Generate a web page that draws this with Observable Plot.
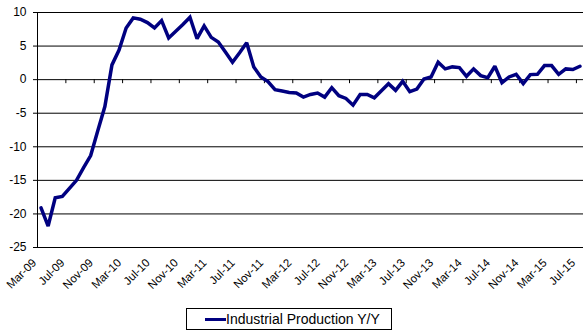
<!DOCTYPE html>
<html>
<head>
<meta charset="utf-8">
<script src="https://cdn.jsdelivr.net/npm/d3@7"></script>
<script src="https://cdn.jsdelivr.net/npm/@observablehq/plot@0.6"></script>
<style>
  html, body { margin: 0; padding: 0; background: #fff; }
  body { width: 583px; height: 333px; position: relative; overflow: hidden; font-family: "Liberation Sans", Arial, sans-serif; }
  #chart svg { display: block; }
  #legend { position: absolute; left: 186px; top: 308px; width: 204px; height: 20px; border: 1px solid #000; background: #fff; }
  #legend .sw { position: absolute; left: 18px; top: 8.5px; width: 21px; height: 3.5px; background: #000080; }
  #legend .lab { position: absolute; left: 39px; top: 1px; font-size: 14px; line-height: 18px; color: #000; white-space: nowrap; }
</style>
</head>
<body>
<div id="chart"></div>
<div id="legend"><span class="sw"></span><span class="lab">Industrial Production Y/Y</span></div>
<script>
// Monthly categories from Mar-09 to Jul-15; a label every 4 months
const tickLabels = ["Mar-09","Jul-09","Nov-09","Mar-10","Jul-10","Nov-10","Mar-11","Jul-11","Nov-11","Mar-12",
  "Jul-12","Nov-12","Mar-13","Jul-13","Nov-13","Mar-14","Jul-14","Nov-14","Mar-15","Jul-15"];
const monthsPerLabel = 4;

// Industrial Production Y/Y (%), one value per month, Mar-09 .. Jul-15
const ipYoY = [
  -19.1, -21.8, -17.6, -17.4, -16.2, -15.0, -13.1, -11.3, -7.6, -4.0,
  2.2, 4.4, 7.7, 9.2, 9.0, 8.5, 7.7, 8.8, 6.2, 7.2,
  8.2, 9.3, 6.1, 8.0, 6.3, 5.6, 4.1, 2.6, 4.0, 5.5,
  1.9, 0.4, -0.3, -1.5, -1.7, -1.9, -2.0, -2.6, -2.2, -2.0,
  -2.6, -1.2, -2.4, -2.8, -3.8, -2.2, -2.2, -2.7, -1.65, -0.6,
  -1.6, -0.25, -1.8, -1.4, 0.1, 0.4, 2.6, 1.6, 1.9, 1.8,
  0.5, 1.6, 0.6, 0.3, 2.0, -0.45, 0.4, 0.8, -0.6, 0.75,
  0.8, 2.1, 2.1, 0.8, 1.6, 1.5, 2.0
];

const yTicks = [-25, -20, -15, -10, -5, 0, 5, 10];

const data = ipYoY.map((v, i) => ({ m: i + 0.5, v }));
const tickPos = tickLabels.map((_, i) => i * monthsPerLabel);

const chart = Plot.plot({
  width: 583,
  height: 295,
  marginLeft: 37,
  marginRight: 0,
  marginTop: 12,
  marginBottom: 48,
  x: { domain: [0, ipYoY.length], axis: null },
  y: { domain: [d3.min(yTicks), d3.max(yTicks)], axis: null },
  style: { fontFamily: "'Liberation Sans', Arial, sans-serif", fontSize: "12px", color: "#000", background: "#fff", overflow: "visible" },
  marks: [
    Plot.ruleY(yTicks, { stroke: "#000", strokeWidth: 1 }),
    Plot.frame({ anchor: "left", stroke: "#000", strokeWidth: 1 }),
    Plot.axisY(yTicks, { tickSize: 4, tickPadding: 7, tickFormat: d => String(d), label: null, stroke: "#000", fontSize: 12 }),
    Plot.ruleX(tickPos, { y1: 0, y2: -0.6, stroke: "#000", strokeWidth: 1 }),
    Plot.line(data, { x: "m", y: "v", stroke: "#000080", strokeWidth: 3.5, strokeLinejoin: "miter", strokeMiterlimit: 2 }),
    Plot.text(tickLabels, { x: (d, i) => tickPos[i], frameAnchor: "bottom", dy: 16, dx: -0.5, rotate: -45, textAnchor: "end", fontSize: 11.5, fill: "#000" })
  ]
});
document.getElementById("chart").appendChild(chart);
</script>
</body>
</html>
